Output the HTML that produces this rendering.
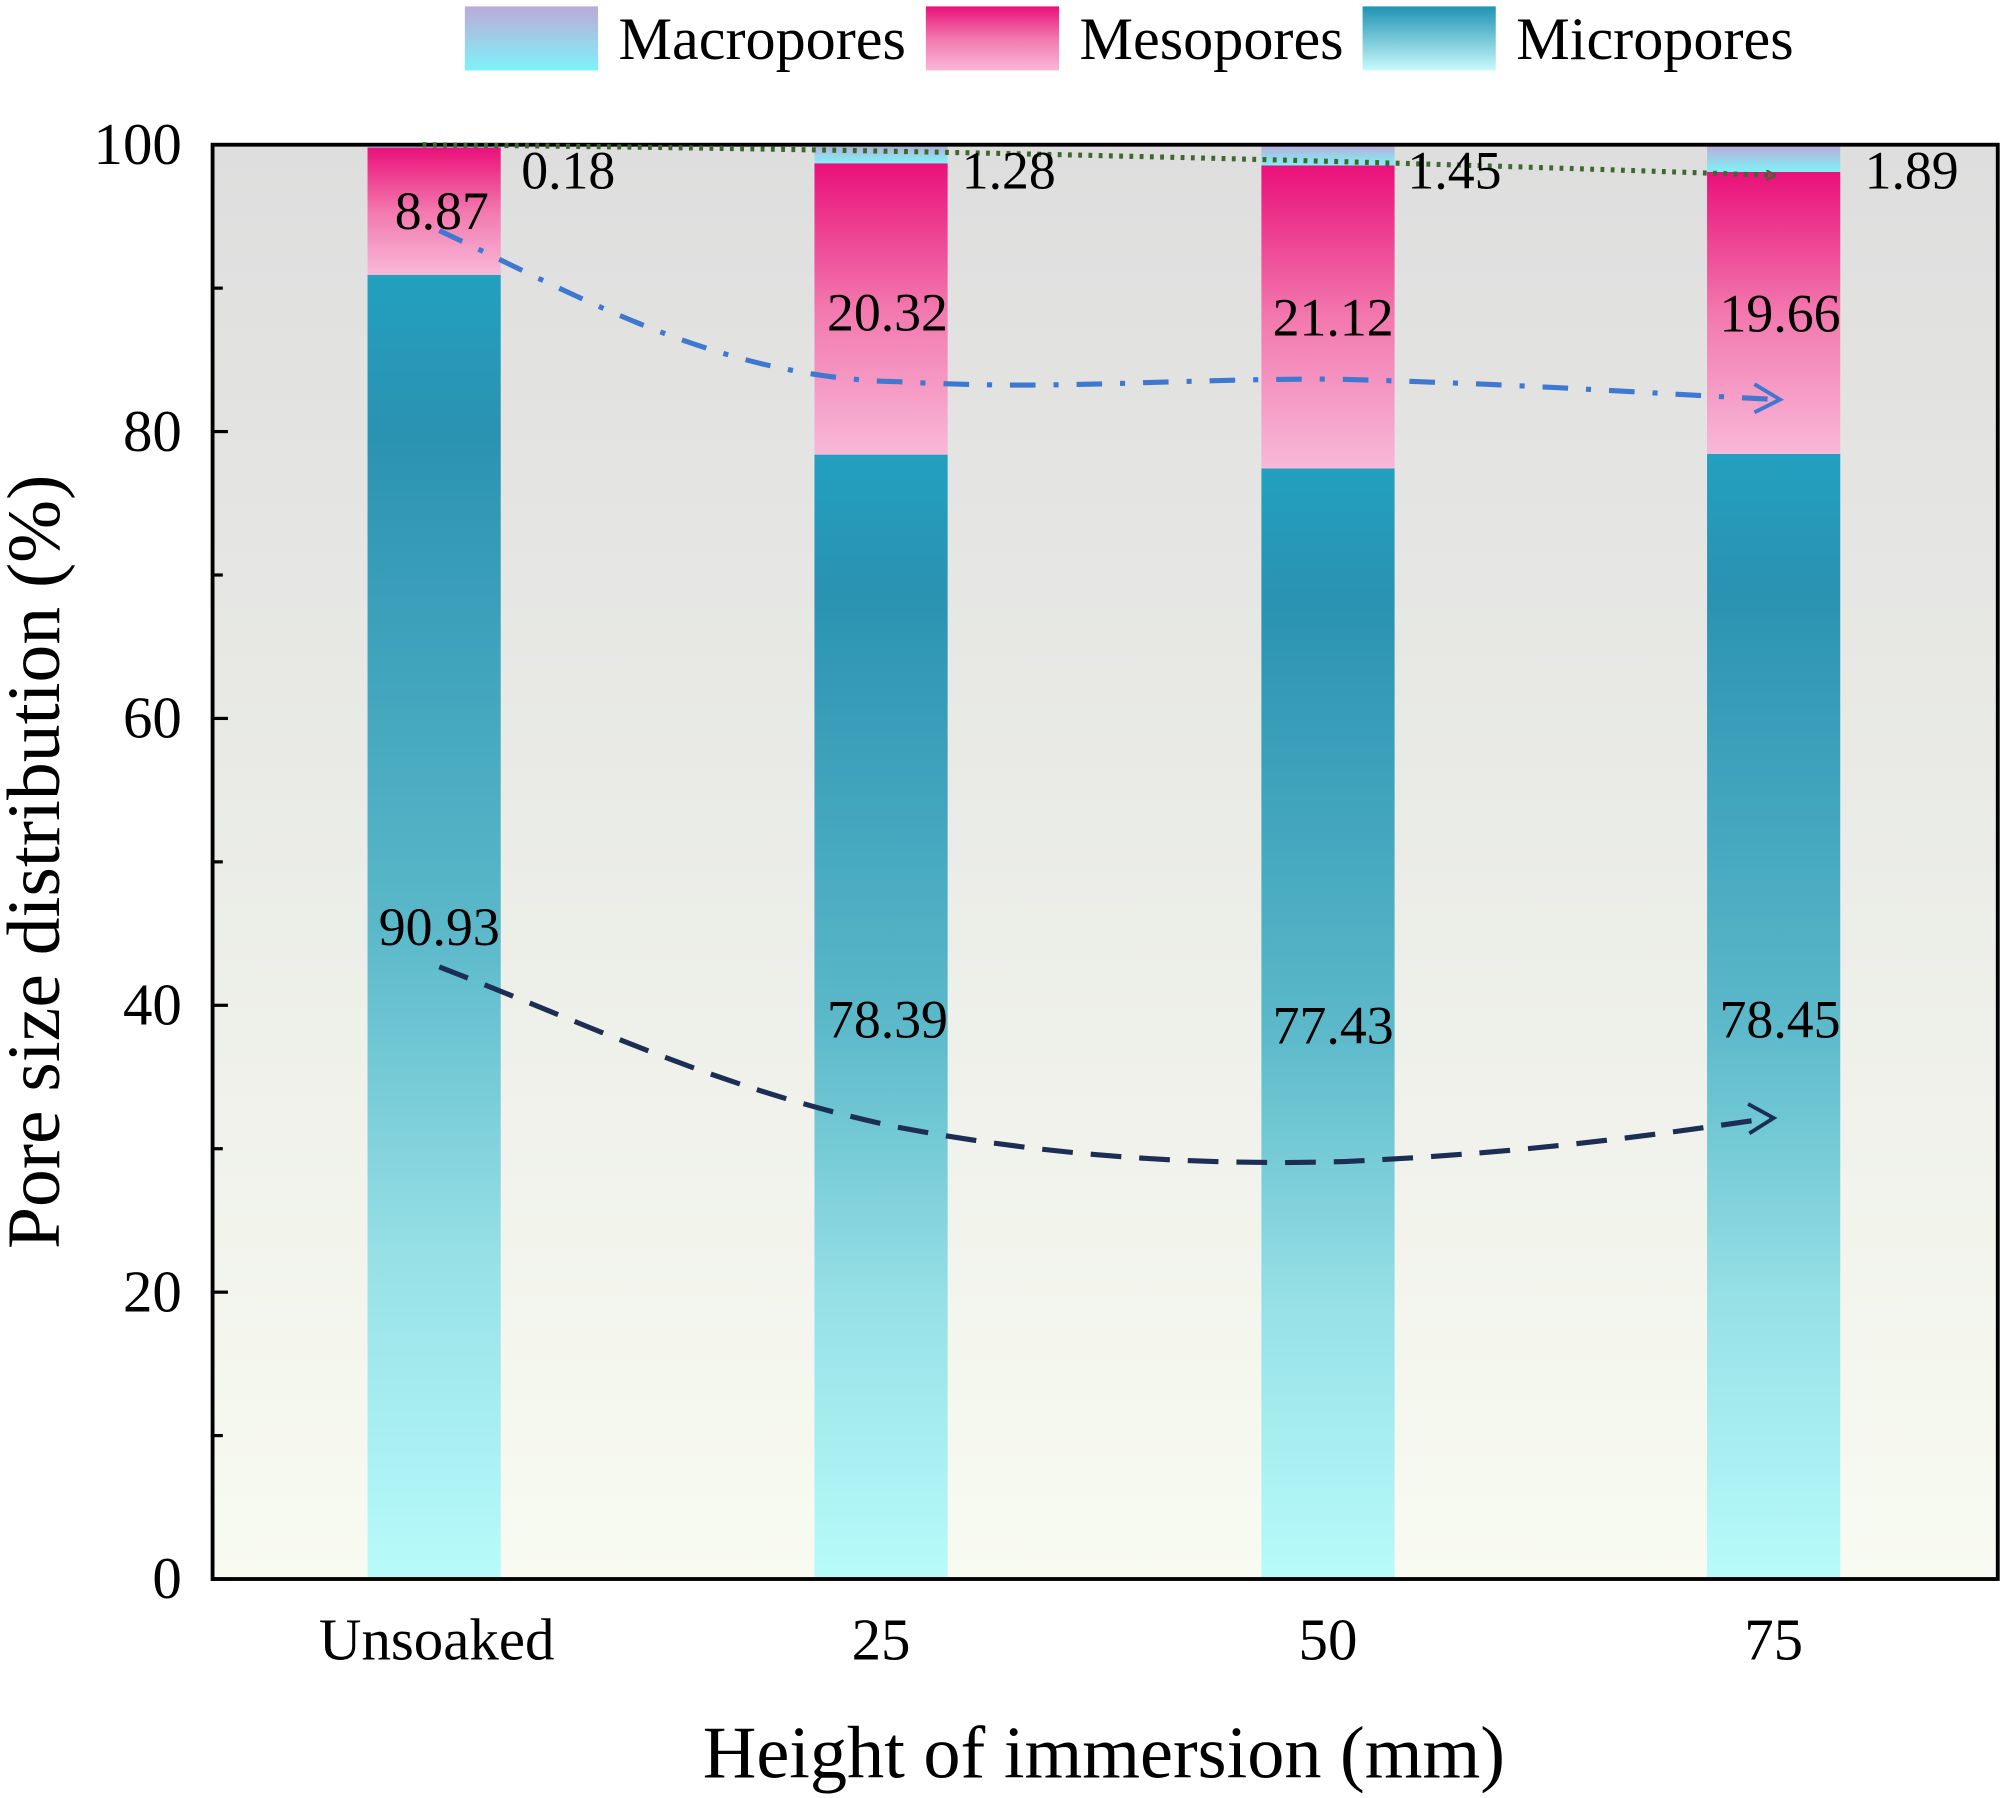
<!DOCTYPE html>
<html><head><meta charset="utf-8"><style>html,body{margin:0;padding:0;background:#fff}svg{display:block}</style></head>
<body>
<svg width="2008" height="1798" viewBox="0 0 1568 1404" preserveAspectRatio="none" xmlns="http://www.w3.org/2000/svg" font-family="'Liberation Serif',serif">
<defs>
<linearGradient id="bg" x1="0" y1="0" x2="0" y2="1"><stop offset="0" stop-color="#dedede"/><stop offset="1" stop-color="#f8fbf1"/></linearGradient>
<linearGradient id="mi" x1="0" y1="0" x2="0" y2="1"><stop offset="0" stop-color="#22a0bf"/><stop offset="0.12" stop-color="#2a92b2"/><stop offset="0.5" stop-color="#5ab8c9"/><stop offset="0.75" stop-color="#96e0e6"/><stop offset="1" stop-color="#b8fbfb"/></linearGradient>
<linearGradient id="me" x1="0" y1="0" x2="0" y2="1"><stop offset="0" stop-color="#ea107a"/><stop offset="0.5" stop-color="#f278ae"/><stop offset="1" stop-color="#f8b8d8"/></linearGradient>
<linearGradient id="ma" x1="0" y1="0" x2="0" y2="1"><stop offset="0" stop-color="#bcaad8"/><stop offset="1" stop-color="#7ef2f8"/></linearGradient>
<linearGradient id="mil" x1="0" y1="0" x2="0" y2="1"><stop offset="0" stop-color="#2192b4"/><stop offset="1" stop-color="#c8fafa"/></linearGradient>
<marker id="ag" markerWidth="8" markerHeight="8" refX="6" refY="4" orient="auto" markerUnits="userSpaceOnUse" viewBox="0 0 8 8"><path d="M0,0 L8,4 L0,8" fill="none" stroke="#3b6a2a" stroke-width="1.5"/></marker>
</defs>
<rect x="166" y="113" width="1394" height="1120" fill="url(#bg)"/>
<g>
<rect x="287" y="214.6" width="104" height="1018.4" fill="url(#mi)"/>
<rect x="287" y="115.2" width="104" height="99.4" fill="url(#me)"/>
<rect x="287" y="113" width="104" height="2.2" fill="url(#ma)"/>
<rect x="636" y="355" width="104" height="878" fill="url(#mi)"/>
<rect x="636" y="127.5" width="104" height="227.5" fill="url(#me)"/>
<rect x="636" y="113" width="104" height="14.5" fill="url(#ma)"/>
<rect x="985" y="365.8" width="104" height="867.2" fill="url(#mi)"/>
<rect x="985" y="129.2" width="104" height="236.6" fill="url(#me)"/>
<rect x="985" y="113" width="104" height="16.2" fill="url(#ma)"/>
<rect x="1333" y="354.4" width="104" height="878.6" fill="url(#mi)"/>
<rect x="1333" y="134.2" width="104" height="220.2" fill="url(#me)"/>
<rect x="1333" y="113" width="104" height="21.2" fill="url(#ma)"/>
</g>
<rect x="166" y="113" width="1394" height="1120" fill="none" stroke="#000" stroke-width="3"/>
<g stroke="#000" stroke-width="2.5">
<line x1="166" y1="1233" x2="178" y2="1233"/><line x1="166" y1="1121" x2="174" y2="1121"/>
<line x1="166" y1="1009" x2="178" y2="1009"/><line x1="166" y1="897" x2="174" y2="897"/>
<line x1="166" y1="785" x2="178" y2="785"/><line x1="166" y1="673" x2="174" y2="673"/>
<line x1="166" y1="561" x2="178" y2="561"/><line x1="166" y1="449" x2="174" y2="449"/>
<line x1="166" y1="337" x2="178" y2="337"/><line x1="166" y1="225" x2="174" y2="225"/>
</g>
<g font-size="46" text-anchor="end" fill="#000">
<text x="142" y="1248">0</text><text x="142" y="1024">20</text><text x="142" y="800">40</text>
<text x="142" y="576">60</text><text x="142" y="352">80</text><text x="142" y="128">100</text>
</g>
<g font-size="46" text-anchor="middle">
<text x="341" y="1296">Unsoaked</text><text x="688" y="1296">25</text><text x="1037" y="1296">50</text><text x="1385" y="1296">75</text>
</g>
<text x="862" y="1388" font-size="58" text-anchor="middle">Height of immersion (mm)</text>
<text transform="translate(46,673) rotate(-90)" font-size="59" text-anchor="middle">Pore size distribution (%)</text>
<path d="M330,113 Q860,118 1385,137" fill="none" stroke="#3b6a2a" stroke-width="4" stroke-dasharray="3,5" marker-end="url(#ag)"/>
<path d="M343,180 C450,230 560,295 700,298 C830,305 900,296 1040,296 C1200,300 1300,308 1388,312" fill="none" stroke="#3f78d0" stroke-width="4" stroke-dasharray="20,14,4,14"/>
<path d="M1370,300 L1390,312 L1370,322" fill="none" stroke="#3f78d0" stroke-width="3"/>
<path d="M343,755 C460,800 560,850 700,880 C830,905 950,910 1050,907 C1200,900 1300,885 1383,873" fill="none" stroke="#1d2e55" stroke-width="4" stroke-dasharray="24,14"/>
<path d="M1365,862 L1385,873 L1366,885" fill="none" stroke="#1d2e55" stroke-width="3"/>
<g font-size="42" fill="#000">
<text x="407" y="147">0.18</text><text x="751" y="147">1.28</text><text x="1099" y="147">1.45</text><text x="1456" y="147">1.89</text>
</g>
<g font-size="42" text-anchor="middle" fill="#000">
<text x="345" y="179">8.87</text>
<text x="693" y="258">20.32</text><text x="1041" y="262">21.12</text><text x="1390" y="259">19.66</text>
<text x="343" y="738">90.93</text><text x="693" y="810">78.39</text><text x="1041" y="815">77.43</text><text x="1390" y="810">78.45</text>
</g>
<rect x="363" y="5" width="104" height="50" fill="url(#ma)"/>
<text x="483" y="46" font-size="47">Macropores</text>
<rect x="723" y="5" width="104" height="50" fill="url(#me)"/>
<text x="843" y="46" font-size="47">Mesopores</text>
<rect x="1064" y="5" width="104" height="50" fill="url(#mil)"/>
<text x="1184" y="46" font-size="47">Micropores</text>
</svg>
</body></html>
